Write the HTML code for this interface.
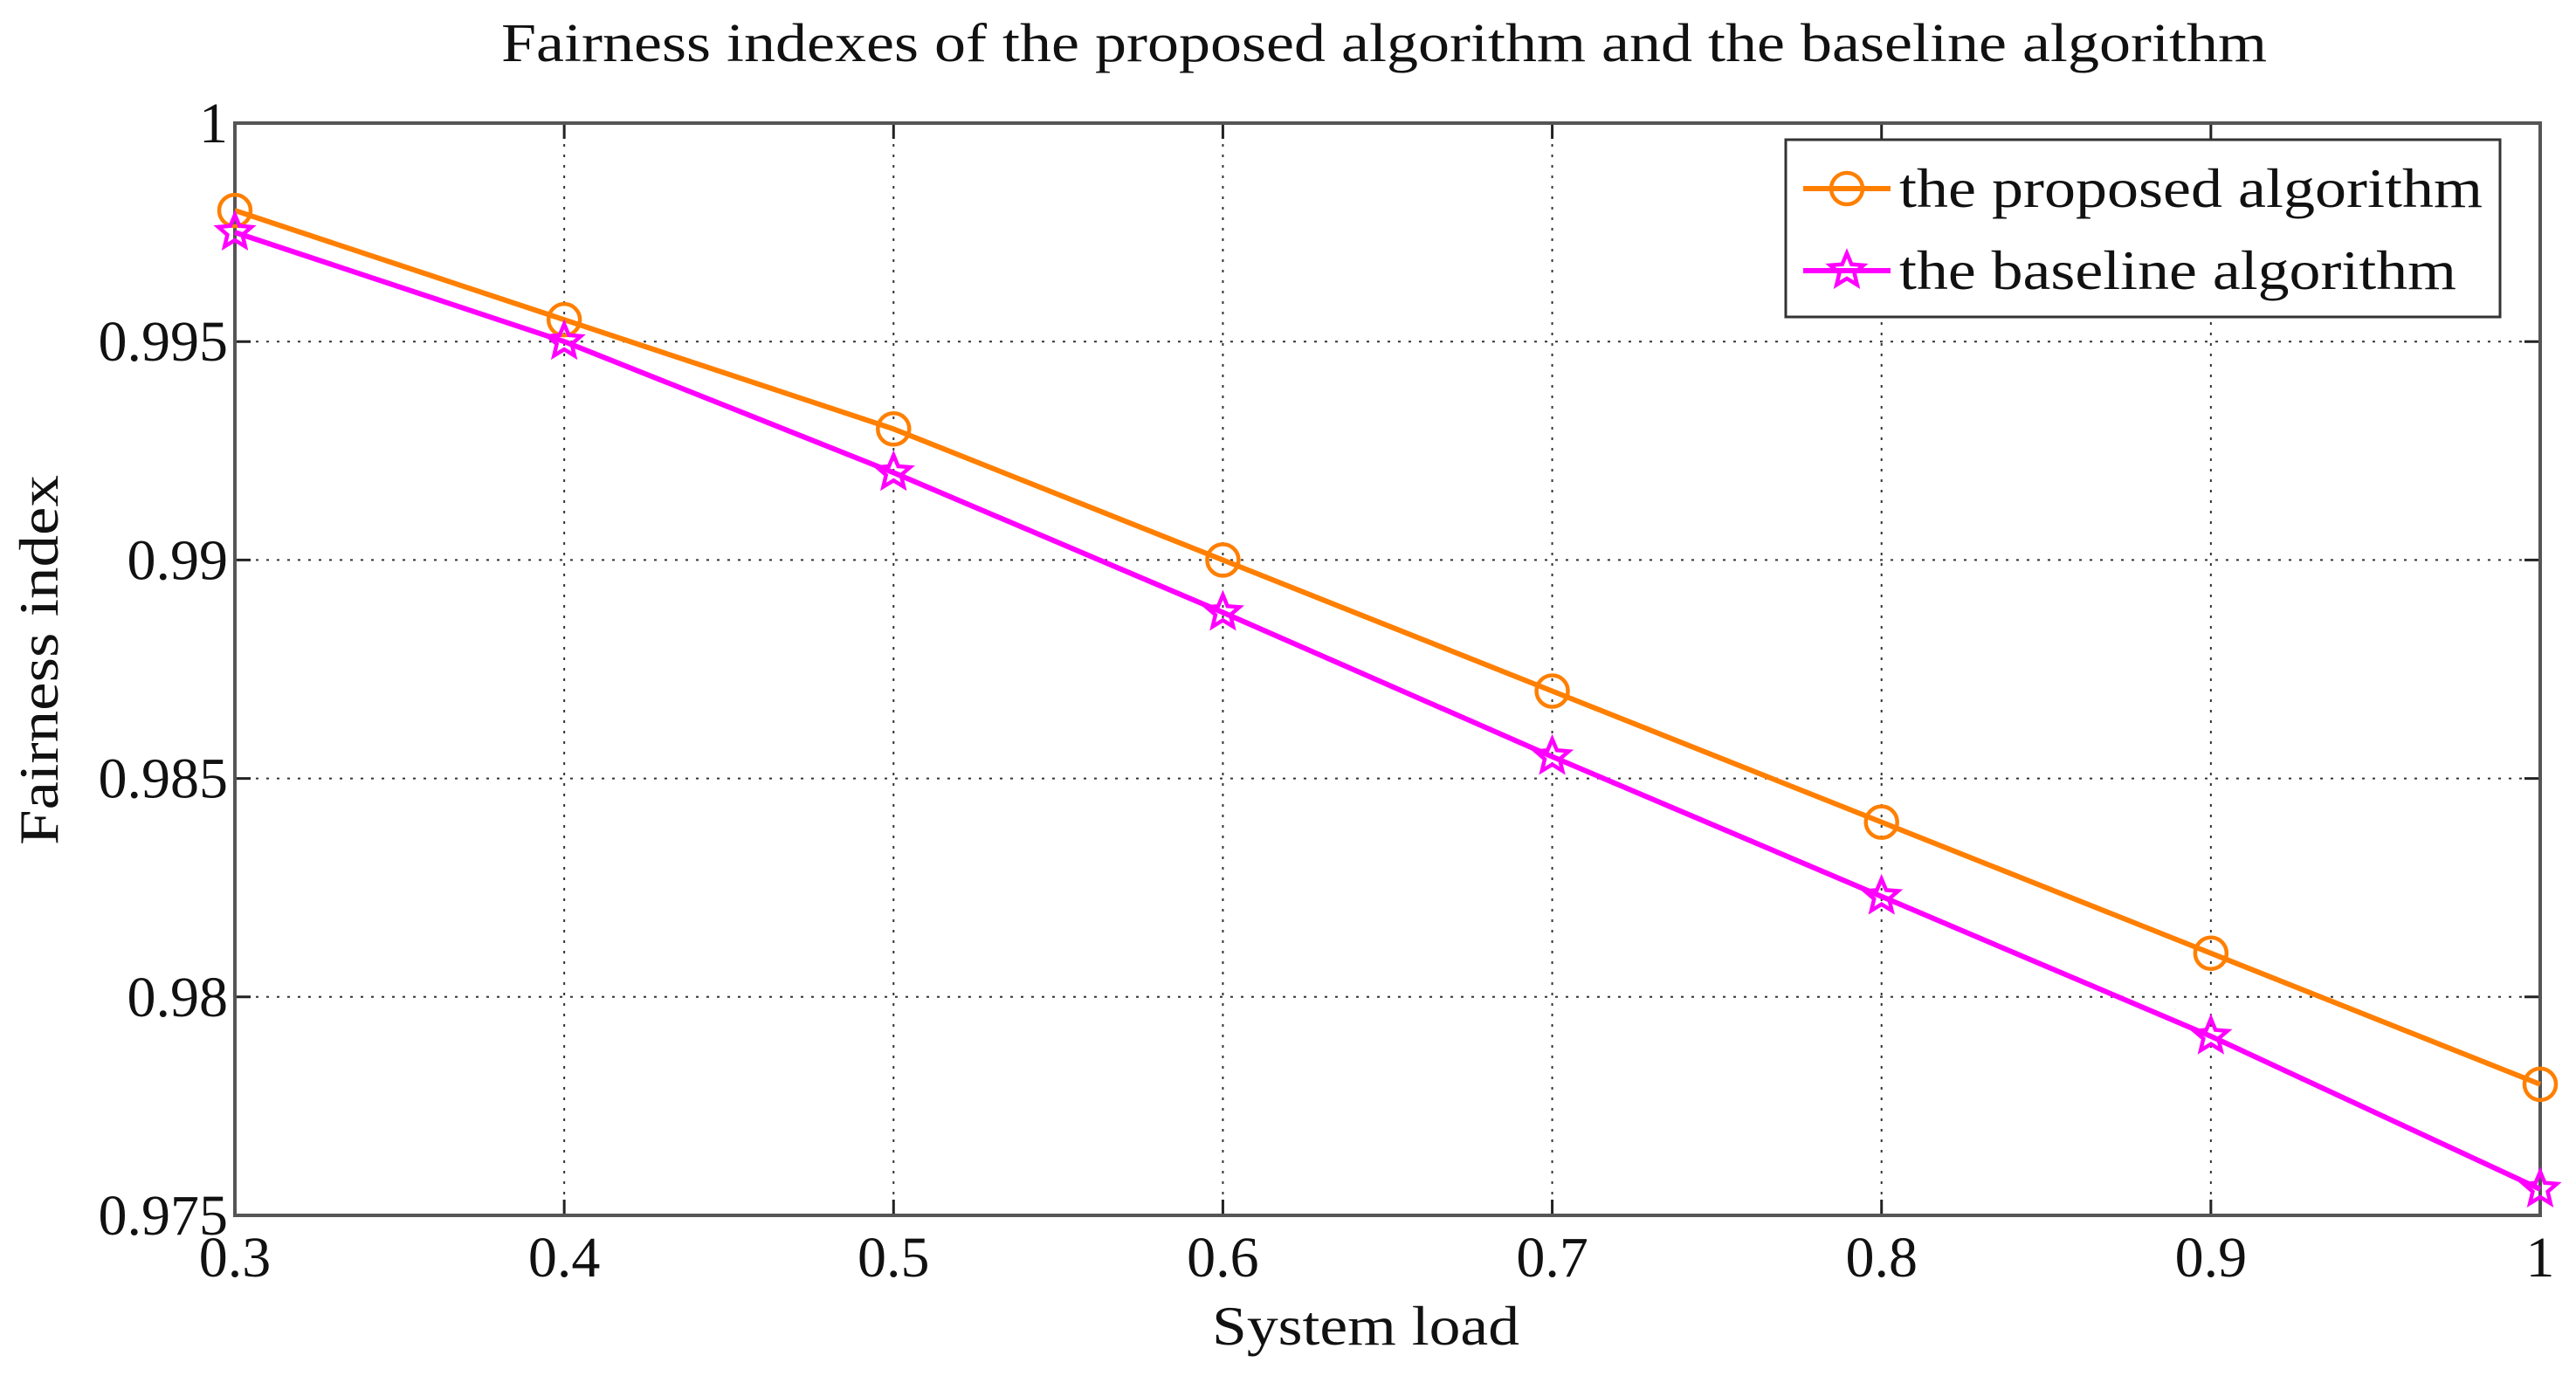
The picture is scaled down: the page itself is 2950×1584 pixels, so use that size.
<!DOCTYPE html>
<html><head><meta charset="utf-8"><style>
html,body{margin:0;padding:0;background:#fff;}
svg{display:block;font-family:"Liberation Serif",serif;}
</style></head><body>
<svg id="chart" width="2950" height="1584" viewBox="0 0 2950 1584" xmlns="http://www.w3.org/2000/svg">
<rect width="2950" height="1584" fill="#fff"/>
<text x="574" y="70" font-size="62" textLength="2022" lengthAdjust="spacingAndGlyphs" fill="#111">Fairness indexes of the proposed algorithm and the baseline algorithm</text>
<g id="grid"></g>
<g id="axes"></g>
<g id="series"></g>
<text x="1388" y="1540" font-size="64" textLength="352" lengthAdjust="spacingAndGlyphs" fill="#111">System load</text>
<text transform="translate(66,968) rotate(-90)" font-size="64" textLength="424" lengthAdjust="spacingAndGlyphs" fill="#111">Fairness index</text>
<g>
<rect x="2045" y="160" width="818" height="203" fill="#fff" stroke="#333" stroke-width="3"/>
<line x1="2065" y1="216" x2="2165" y2="216" stroke="#ff7f00" stroke-width="6"/>
<circle cx="2115" cy="216" r="18" fill="none" stroke="#ff7f00" stroke-width="4.5"/>
<text x="2175" y="237" font-size="64" textLength="668" lengthAdjust="spacingAndGlyphs" fill="#111">the proposed algorithm</text>
<line x1="2065" y1="310" x2="2165" y2="310" stroke="#ff00ff" stroke-width="6"/>
<polygon id="legstar" fill="none" stroke="#ff00ff" stroke-width="4.5"/>
<text x="2175" y="331" font-size="64" textLength="638" lengthAdjust="spacingAndGlyphs" fill="#111">the baseline algorithm</text>
</g>
</svg>
<script>
const xValues = [0.3,0.4,0.5,0.6,0.7,0.8,0.9,1.0];
const proposed = [0.998,0.9955,0.993,0.990,0.987,0.984,0.981,0.978];
const baseline = [0.9975,0.995,0.992,0.9888,0.9855,0.9823,0.9791,0.9756];
const xTicks = [0.3,0.4,0.5,0.6,0.7,0.8,0.9,1];
const xTickLabels = ["0.3","0.4","0.5","0.6","0.7","0.8","0.9","1"];
const yTicks = [0.975,0.98,0.985,0.99,0.995,1];
const yTickLabels = ["0.975","0.98","0.985","0.99","0.995","1"];

const L=269,R=2909,T=141,B=1392;
const xs=v=>L+(v-0.3)/(1-0.3)*(R-L);
const ys=v=>B-(v-0.975)/(1-0.975)*(B-T);
const NS="http://www.w3.org/2000/svg";
function mk(tag,attrs,parent){const e=document.createElementNS(NS,tag);for(const k in attrs)e.setAttribute(k,attrs[k]);parent.appendChild(e);return e;}
const grid=document.getElementById('grid'),axes=document.getElementById('axes'),series=document.getElementById('series');
xTicks.forEach((t,i)=>{
  const x=xs(t);
  if(i>0&&i<xTicks.length-1){const g=mk('line',{x1:x,y1:T,x2:x,y2:B,stroke:'#333','stroke-width':2,'stroke-dasharray':'3,9'},grid);
  
  }
  mk('line',{x1:x,y1:B,x2:x,y2:B-18,stroke:'#222','stroke-width':3},axes);
  mk('line',{x1:x,y1:T,x2:x,y2:T+18,stroke:'#222','stroke-width':3},axes);
  const tx=mk('text',{x:x,y:B+70,'font-size':66,'text-anchor':'middle',fill:'#111'},axes);
  tx.textContent=xTickLabels[i];
  
  
});
yTicks.forEach((t,i)=>{
  const y=ys(t);
  if(i>0&&i<yTicks.length-1){const g=mk('line',{x1:L,y1:y,x2:R,y2:y,stroke:'#333','stroke-width':2,'stroke-dasharray':'3,9'},grid);
  
  }
  mk('line',{x1:L,y1:y,x2:L+18,y2:y,stroke:'#222','stroke-width':3},axes);
  mk('line',{x1:R,y1:y,x2:R-18,y2:y,stroke:'#222','stroke-width':3},axes);
  const tx=mk('text',{x:L-8,y:y+22,'font-size':66,'text-anchor':'end',fill:'#111'},axes);
  tx.textContent=yTickLabels[i];
  
  
});
const frame=mk('rect',{x:L,y:T,width:R-L,height:B-T,fill:'none',stroke:'#555','stroke-width':4},axes);


function starPts(cx,cy,r){let p=[];for(let k=0;k<10;k++){const a=-Math.PI/2+k*Math.PI/5;const rr=k%2?r*0.45:r;p.push((cx+rr*Math.cos(a)).toFixed(1)+','+(cy+rr*Math.sin(a)).toFixed(1));}return p.join(' ');}
document.getElementById('legstar').setAttribute('points',starPts(2115,310,20));
function draw(vals,color,marker,name){
  const pl=mk('polyline',{points:vals.map((v,i)=>xs(xValues[i])+','+ys(v)).join(' '),fill:'none',stroke:color,'stroke-width':6},series);
  
  
  vals.forEach((v,i)=>{
    let m;
    if(marker==='circle') m=mk('circle',{cx:xs(xValues[i]),cy:ys(v),r:18,fill:'none',stroke:color,'stroke-width':4.5},series);
    else m=mk('polygon',{points:starPts(xs(xValues[i]),ys(v),20),fill:'none',stroke:color,'stroke-width':4.5},series);
    
    
  });
}
draw(proposed,'#ff7f00','circle','proposed');
draw(baseline,'#ff00ff','star','baseline');
</script>
</body></html>
